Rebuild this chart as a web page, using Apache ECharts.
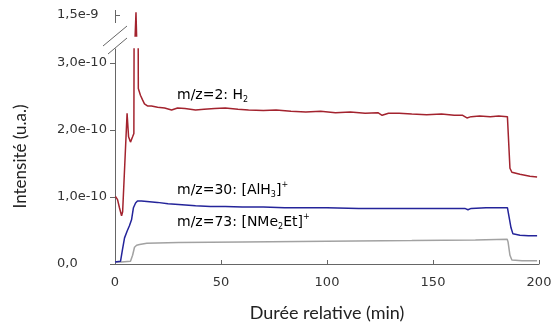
<!DOCTYPE html>
<html>
<head>
<meta charset="utf-8">
<script src="https://cdn.jsdelivr.net/npm/echarts@6/dist/echarts.min.js"></script>
<style>
  html, body { margin: 0; padding: 0; background: #fff; }
  #chart { width: 555px; height: 332px; }
</style>
</head>
<body>
<div id="chart"></div>
<script>
// valeurs en unités de 1e-10 (u.a.), temps en min
const timeH2 = [0.2, 1.2, 2.1, 3.1, 3.6, 5.7, 6.0, 6.4, 7.3, 8.3, 8.9, 9.9, 11.0, 12.0, 13.0, 13.9, 15.3, 17.2, 20.1, 23.4, 26.7, 29.5, 33, 38, 42, 47, 52, 58, 63, 70, 76, 83, 90, 97, 104, 111, 118, 124, 126, 129, 134, 140, 147, 154, 160, 164, 166, 168, 172, 177, 181, 185.1, 186.3, 187.2, 191, 195.7, 199.1];
const valH2 = [1.01, 0.96, 0.84, 0.72, 0.78, 2.25, 2.10, 1.90, 1.82, 1.90, 1.95, 15.4, 2.62, 2.52, 2.45, 2.39, 2.36, 2.36, 2.34, 2.33, 2.30, 2.33, 2.32, 2.30, 2.31, 2.32, 2.33, 2.31, 2.30, 2.29, 2.30, 2.28, 2.27, 2.28, 2.26, 2.27, 2.25, 2.26, 2.22, 2.25, 2.25, 2.24, 2.23, 2.24, 2.22, 2.22, 2.18, 2.20, 2.21, 2.20, 2.21, 2.20, 1.43, 1.37, 1.34, 1.31, 1.30];

const timeAlH3 = [0, 2.6, 3.5, 4.5, 5.7, 6.8, 7.8, 8.7, 9.7, 10.6, 12.5, 16.3, 20, 25, 30, 38, 45, 52, 60, 70, 80, 90, 100, 115, 130, 145, 160, 165, 166.5, 168, 175, 185.1, 186.8, 187.7, 191, 195, 199.1];
const valAlH3 = [0.03, 0.04, 0.21, 0.39, 0.49, 0.57, 0.66, 0.84, 0.91, 0.94, 0.94, 0.93, 0.92, 0.90, 0.89, 0.87, 0.86, 0.86, 0.85, 0.85, 0.84, 0.84, 0.84, 0.83, 0.83, 0.83, 0.83, 0.83, 0.81, 0.83, 0.84, 0.84, 0.54, 0.45, 0.43, 0.42, 0.42];

const timeNMe2Et = [0, 3, 7.3, 8.3, 9.2, 10.2, 11.6, 15, 30, 60, 100, 140, 170, 185, 185.4, 186.3, 187.2, 192, 199.1];
const valNMe2Et = [0.03, 0.03, 0.04, 0.13, 0.25, 0.28, 0.29, 0.31, 0.32, 0.33, 0.34, 0.35, 0.36, 0.37, 0.33, 0.13, 0.06, 0.05, 0.05];

const xTicks = [0, 50, 100, 150, 200];
const yTicksLow = [0, 1, 2, 3];
const yLabelsLow = ['0,0', '1,0e-10', '2,0e-10', '3,0e-10'];
const yTicksHigh = [15];
const yLabelsHigh = ['1,5e-9'];

const RED = '#a3232e', BLUE = '#24249a', GREY = '#a2a2a2', AXIS = '#666';
const TICK_FONT = { color: '#333', fontFamily: 'DejaVu Sans', fontSize: 13 };
const RICH = {
  t: { fontFamily: 'DejaVu Sans', fontSize: 14, color: '#222', lineHeight: 18 },
  sub: { fontFamily: 'DejaVu Sans', fontSize: 8, color: '#222', lineHeight: 9, verticalAlign: 'bottom' },
  sup: { fontFamily: 'DejaVu Sans', fontSize: 8, color: '#222', lineHeight: 9, verticalAlign: 'top' },
};

function pairs(t, v) { return t.map((x, i) => [x, v[i]]); }
function lineSeries(name, t, v, color, idx) {
  return {
    name, type: 'line', xAxisIndex: idx, yAxisIndex: idx, data: pairs(t, v),
    symbol: 'none', clip: true, animation: false,
    lineStyle: { color, width: 1.5 },
  };
}

const chart = echarts.init(document.getElementById('chart'), null, { renderer: 'canvas' });
chart.setOption({
  animation: false,
  grid: [
    { left: 115, right: 16, top: 49, bottom: 68 },
    { left: 115, right: 16, top: 8, height: 28 },
  ],
  xAxis: [
    {
      type: 'value', gridIndex: 0, min: 0, max: 200,
      axisLine: { lineStyle: { color: AXIS, width: 1 } },
      axisTick: { inside: true, length: 4, customValues: xTicks, lineStyle: { color: AXIS } },
      axisLabel: { ...TICK_FONT, margin: 12, customValues: xTicks },
      splitLine: { show: false },
      name: 'Durée relative (min)', nameLocation: 'middle', nameGap: 40,
      nameTextStyle: { color: '#222', fontFamily: 'Lato', fontSize: 18 },
    },
    { type: 'value', gridIndex: 1, min: 0, max: 200, show: false },
  ],
  yAxis: [
    {
      type: 'value', gridIndex: 0, min: 0, max: 3.21,
      axisLine: { show: true, lineStyle: { color: AXIS, width: 1 } },
      axisTick: { show: true, length: 5, customValues: yTicksLow, lineStyle: { color: AXIS } },
      axisLabel: {
        ...TICK_FONT, align: 'left', margin: 58, customValues: yTicksLow,
        formatter: (v) => yLabelsLow[yTicksLow.indexOf(Math.round(v))] || '',
      },
      splitLine: { show: false },
      name: 'Intensité (u.a.)', nameLocation: 'middle', nameGap: 86,
      nameTextStyle: { color: '#222', fontFamily: 'Lato', fontSize: 17 },
    },
    {
      type: 'value', gridIndex: 1, min: 12, max: 16,
      axisLine: { show: false },
      axisTick: { show: true, inside: true, length: 5, customValues: yTicksHigh, lineStyle: { color: AXIS } },
      axisLabel: {
        ...TICK_FONT, align: 'left', margin: 58, customValues: yTicksHigh,
        formatter: (v) => yLabelsHigh[yTicksHigh.indexOf(Math.round(v))] || '',
      },
      splitLine: { show: false },
    },
  ],
  graphic: [
    // segment haut de l'axe + coupure
    { type: 'line', shape: { x1: 115.5, y1: 10, x2: 115.5, y2: 23 }, style: { stroke: AXIS, lineWidth: 1 } },
    { type: 'line', shape: { x1: 103, y1: 46, x2: 127, y2: 26 }, style: { stroke: AXIS, lineWidth: 1 } },
    { type: 'line', shape: { x1: 108, y1: 54, x2: 127, y2: 38 }, style: { stroke: AXIS, lineWidth: 1 } },
    { type: 'text', left: 177, top: 88, style: { text: '{t|m/z=2: H}{sub|2}', rich: RICH } },
    { type: 'text', left: 177, top: 181, style: { text: '{t|m/z=30: [AlH}{sub|3}{t|]}{sup|+}', rich: RICH } },
    { type: 'text', left: 177, top: 213, style: { text: '{t|m/z=73: [NMe}{sub|2}{t|Et]}{sup|+}', rich: RICH } },
  ],
  series: [
    lineSeries('m/z=73', timeNMe2Et, valNMe2Et, GREY, 0),
    lineSeries('m/z=30', timeAlH3, valAlH3, BLUE, 0),
    lineSeries('m/z=2', timeH2, valH2, RED, 0),
    lineSeries('m/z=2 (haut)', timeH2, valH2, RED, 1),
  ],
});
window.addEventListener('resize', () => chart.resize());
</script>
</body>
</html>
